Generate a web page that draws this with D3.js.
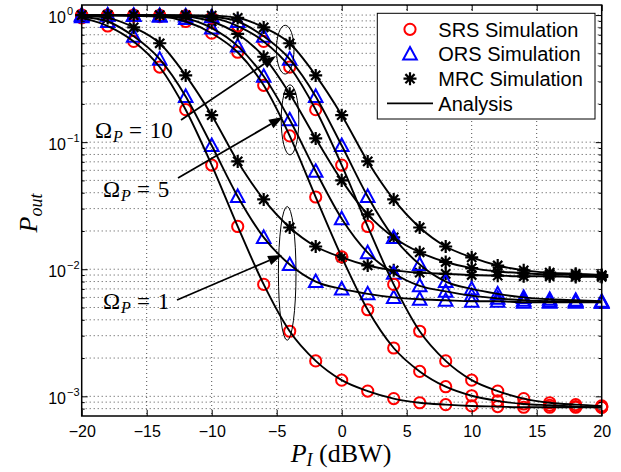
<!DOCTYPE html>
<html><head><meta charset="utf-8">
<script src="https://cdn.jsdelivr.net/npm/d3@7/dist/d3.min.js"></script>
<style>body{margin:0;background:#fff}svg{display:block}</style>
</head><body><svg id="chart" width="621" height="472"></svg>
<script>
// ---------------- data ----------------
const piDbw = [-20,-18,-16,-14,-12,-10,-8,-6,-4,-2,0,2,4,6,8,10,12,14,16,18,20];
// Omega_P = 1
const srs1  = [0.95,0.82,0.62,0.39,0.18,0.066,0.0217,0.0076,0.00325,0.0019,0.00134,0.0011,0.00096,0.00089,0.00086,0.00084,0.00083,0.00082,0.00082,0.00082,0.00082];
const ors1  = [0.97,0.89,0.68,0.45,0.229,0.094,0.0374,0.0178,0.0109,0.0080,0.0070,0.0064,0.0060,0.0058,0.0057,0.0056,0.0056,0.0055,0.0055,0.0055,0.0055];
const mrc1  = [0.99,0.95,0.80,0.60,0.335,0.163,0.0705,0.0354,0.0213,0.0151,0.0124,0.0107,0.0098,0.0094,0.0092,0.0090,0.0089,0.0088,0.0088,0.0087,0.0087];
// Omega_P = 5
const srs5  = [0.999,0.996,0.986,0.973,0.89,0.72,0.51,0.28,0.112,0.037,0.0125,0.0048,0.0024,0.00157,0.00119,0.00101,0.00092,0.00087,0.00085,0.00083,0.00082];
const ors5  = [0.998,0.995,0.99,0.98,0.94,0.79,0.57,0.33,0.15,0.059,0.025,0.0135,0.0093,0.0074,0.0067,0.0062,0.0059,0.0057,0.0056,0.0056,0.0055];
const mrc5  = [0.9998,0.9995,0.998,0.995,0.975,0.89,0.71,0.47,0.24,0.107,0.050,0.027,0.0178,0.0136,0.0114,0.0102,0.0096,0.0093,0.0091,0.0090,0.0089];
// Omega_P = 10
const srs10 = [0.9995,0.999,0.998,0.995,0.986,0.95,0.82,0.62,0.39,0.18,0.066,0.0217,0.0076,0.00325,0.0019,0.00134,0.0011,0.00096,0.00089,0.00086,0.00084];
const ors10 = [0.9997,0.999,0.997,0.993,0.985,0.97,0.89,0.68,0.45,0.229,0.094,0.0374,0.0178,0.0109,0.0080,0.0070,0.0064,0.0060,0.0058,0.0057,0.0056];
const mrc10 = [0.9999,0.9998,0.9995,0.999,0.997,0.99,0.95,0.80,0.60,0.335,0.163,0.0705,0.0354,0.0213,0.0151,0.0124,0.0107,0.0098,0.0094,0.0092,0.0090];

const xTicks = [-20,-15,-10,-5,0,5,10,15,20];
const yMajor = [1e-3,1e-2,1e-1,1];
const yExpLabels = ["\u22123","\u22122","\u22121","0"];
const legendLabels = ["SRS Simulation","ORS Simulation","MRC Simulation","Analysis"];
const omegaLabels = ["10","5","1"];
const annotatedX = -4;

// ---------------- layout ----------------
const svg = d3.select("#chart");
const L = 81.7, R = 601.7, T = 5, B = 416;
const x = d3.scaleLinear().domain([-20,20]).range([L,R]);
const y = d3.scaleLog().domain([7e-4,1.2]).range([B,T]);

const yMinor = [];
[1e-3,1e-2,1e-1].forEach(d => { for (let k=2;k<=9;k++) yMinor.push(d*k); });
yMinor.unshift(8e-4, 9e-4);

// grid
const grid = svg.append("g").attr("stroke","#222").attr("stroke-width",0.8).attr("stroke-dasharray","1,3");
xTicks.filter(d => d>-20 && d<20).forEach(d => grid.append("line").attr("x1",x(d)).attr("x2",x(d)).attr("y1",T).attr("y2",B));
yMajor.concat(yMinor).forEach(d => grid.append("line").attr("x1",L).attr("x2",R).attr("y1",y(d)).attr("y2",y(d)));

// series
const series = [
  {v:srs1,type:"o"},{v:ors1,type:"^"},{v:mrc1,type:"*"},
  {v:srs5,type:"o"},{v:ors5,type:"^"},{v:mrc5,type:"*"},
  {v:srs10,type:"o"},{v:ors10,type:"^"},{v:mrc10,type:"*"}
];
const starPath = "M-6.5,0L6.5,0M0,-6.5L0,6.5M-4.6,-4.6L4.6,4.6M-4.6,4.6L4.6,-4.6";
const triPath = "M0,-7L6.8,5.5L-6.8,5.5Z";
function drawMarker(g, type, px, py){
  if (type==="o") g.append("circle").attr("cx",px).attr("cy",py).attr("r",5.6).attr("fill","none").attr("stroke","#ff0000").attr("stroke-width",2);
  else if (type==="^") g.append("path").attr("d",triPath).attr("transform",`translate(${px},${py})`).attr("fill","none").attr("stroke","#0000ff").attr("stroke-width",2);
  else g.append("path").attr("d",starPath).attr("transform",`translate(${px},${py})`).attr("fill","none").attr("stroke","#000").attr("stroke-width",2.2);
}
const mg = svg.append("g");
series.forEach(s => s.v.forEach((v,i) => drawMarker(mg, s.type, x(piDbw[i]), y(v))));

const line = d3.line().x((d,i)=>x(piDbw[i])).y(d=>y(d)).curve(d3.curveMonotoneX);
const lg = svg.append("g");
series.forEach(s => lg.append("path").attr("d",line(s.v)).attr("fill","none").attr("stroke","#000").attr("stroke-width",1.9));

// axes box
svg.append("rect").attr("x",L).attr("y",T).attr("width",R-L).attr("height",B-T).attr("fill","none").attr("stroke","#000").attr("stroke-width",1.5);

const font = "'Liberation Sans', Arial, Helvetica, sans-serif";
const xb = svg.append("g").attr("transform",`translate(0,${B})`)
  .call(d3.axisBottom(x).tickValues(xTicks).tickSize(-6).tickPadding(10).tickFormat(d => d<0 ? "\u2212"+Math.abs(d) : String(d)));
const xt = svg.append("g").attr("transform",`translate(0,${T})`)
  .call(d3.axisTop(x).tickValues(xTicks).tickSize(-6).tickFormat(""));
const yl = svg.append("g").attr("transform",`translate(${L},0)`)
  .call(d3.axisLeft(y).tickValues(yMajor).tickSize(-6).tickFormat(""));
const ylm = svg.append("g").attr("transform",`translate(${L},0)`)
  .call(d3.axisLeft(y).tickValues(yMinor).tickSize(-3).tickFormat(""));
const yr = svg.append("g").attr("transform",`translate(${R},0)`)
  .call(d3.axisRight(y).tickValues(yMajor).tickSize(-6).tickFormat(""));
const yrm = svg.append("g").attr("transform",`translate(${R},0)`)
  .call(d3.axisRight(y).tickValues(yMinor).tickSize(-3).tickFormat(""));
[xb,xt,yl,ylm,yr,yrm].forEach(g => { g.select(".domain").remove(); g.selectAll("line").attr("stroke","#000").attr("stroke-width",1); });
xb.selectAll("text").attr("font-family",font).attr("font-size",16).attr("fill","#000");

// y tick labels 10^k
yMajor.forEach((d,i) => {
  svg.append("text").attr("x",66).attr("y",y(d)+7.5).attr("text-anchor","end")
    .attr("font-family",font).attr("font-size",16).text("10");
  svg.append("text").attr("x",67).attr("y",y(d)-0.5).attr("font-family",font).attr("font-size",11).text(yExpLabels[i]);
});

// axis labels
const serif = "'Liberation Serif', 'Times New Roman', serif";
const xl = svg.append("text").attr("x",341).attr("y",462).attr("text-anchor","middle").attr("font-family",serif).attr("font-size",26);
xl.append("tspan").attr("font-style","italic").text("P");
xl.append("tspan").attr("font-style","italic").attr("font-size",18).attr("dy",4).text("I");
xl.append("tspan").attr("dy",-4).text(" (dBW)");
const ylab = svg.append("text").attr("transform","translate(37,213) rotate(-90)").attr("text-anchor","middle").attr("font-family",serif).attr("font-size",26);
ylab.append("tspan").attr("font-style","italic").text("P");
ylab.append("tspan").attr("font-style","italic").attr("font-size",18).attr("dy",5).text("out");

// annotations: ellipses, arrows, labels
const ax = x(annotatedX);
const groups = [
  {top:y(mrc10[8]), bot:y(srs10[8]), padT:18, padB:7, lab:[95,138], from:[181,120], to:[276,56], cxo:-4.5},
  {top:y(mrc5[8]),  bot:y(srs5[8]),  padT:9,  padB:19, lab:[103,197], from:[178,178], to:[283,117], cxo:0.3},
  {top:y(mrc1[8]),  bot:y(srs1[8]),  padT:21, padB:9, lab:[103,309], from:[177,300], to:[282,255], cxo:-2.5}
];
const ag = svg.append("g");
groups.forEach((gp,i) => {
  const y0 = gp.top-gp.padT, y1 = gp.bot+gp.padB;
  ag.append("ellipse").attr("cx",ax+gp.cxo).attr("cy",(y0+y1)/2).attr("rx",8.8).attr("ry",(y1-y0)/2)
    .attr("fill","none").attr("stroke","#000").attr("stroke-width",1);
  const [fx,fy] = gp.from, [tx,ty] = gp.to;
  const ang = Math.atan2(ty-fy, tx-fx);
  const hl = 14, hw = 5;
  const bx = tx - hl*Math.cos(ang), by = ty - hl*Math.sin(ang);
  ag.append("line").attr("x1",fx).attr("y1",fy).attr("x2",bx).attr("y2",by).attr("stroke","#000").attr("stroke-width",1.8);
  ag.append("path").attr("d",`M${tx},${ty}L${bx - hw*Math.sin(ang)},${by + hw*Math.cos(ang)}L${bx + hw*Math.sin(ang)},${by - hw*Math.cos(ang)}Z`).attr("fill","#000");
  const [lx,ly] = gp.lab;
  const t = ag.append("text").attr("x",lx).attr("y",ly).attr("font-family",serif).attr("font-size",23);
  t.append("tspan").text("\u03A9");
  t.append("tspan").attr("font-style","italic").attr("font-size",16).attr("dy",4).attr("dx",1).text("P");
  t.append("tspan").attr("dy",-4).attr("dx",6).text("=");
  t.append("tspan").attr("dx",8).text(omegaLabels[i]);
});

// legend
const lgd = svg.append("g");
lgd.append("rect").attr("x",377.3).attr("y",13.3).attr("width",217.7).attr("height",105.7).attr("fill","#fff").attr("stroke","#000").attr("stroke-width",1);
const types = ["o","^","*"];
legendLabels.forEach((lab,i) => {
  const cy = 29.3 + i*24.7;
  if (i<3) drawMarker(lgd, types[i], 410, cy);
  else lgd.append("line").attr("x1",387).attr("x2",433).attr("y1",cy).attr("y2",cy).attr("stroke","#000").attr("stroke-width",1.9);
  lgd.append("text").attr("x",438.3).attr("y",cy+7.2).attr("font-family",font).attr("font-size",20).text(lab);
});
</script></body></html>
